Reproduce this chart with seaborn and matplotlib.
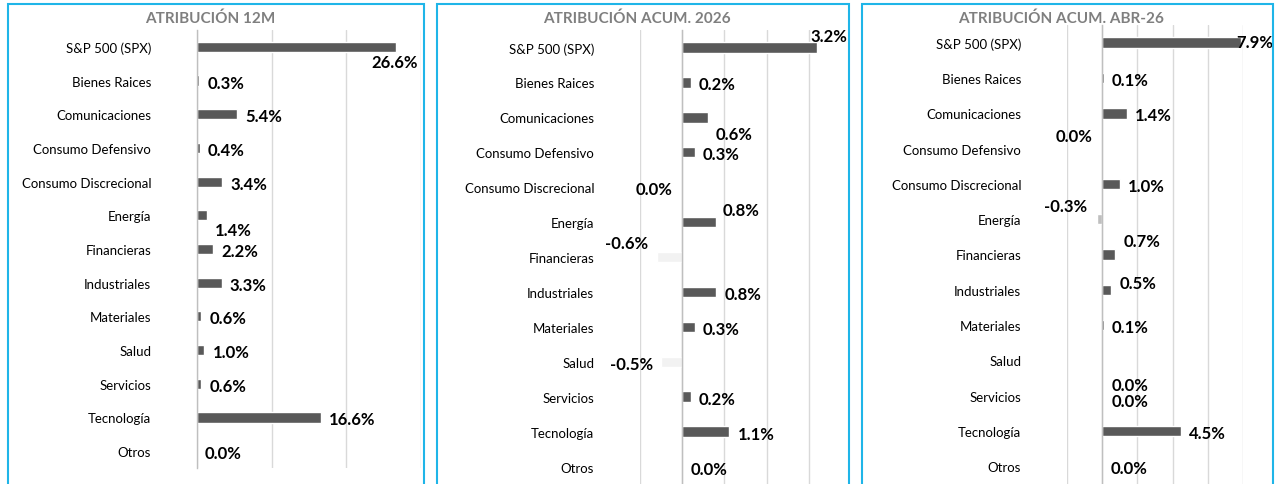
import numpy as np
import matplotlib.pyplot as plt
import seaborn as sns
from matplotlib.patches import Rectangle

# Data
categorias = ["S&P 500 (SPX)", "Bienes Raices", "Comunicaciones", "Consumo Defensivo",
              "Consumo Discrecional", "Energía", "Financieras", "Industriales",
              "Materiales", "Salud", "Servicios", "Tecnología", "Otros"]
titulos = ["ATRIBUCIÓN 12M", "ATRIBUCIÓN ACUM. 2026", "ATRIBUCIÓN ACUM. ABR-26"]
atrib_12m = [26.6, 0.3, 5.4, 0.4, 3.4, 1.4, 2.2, 3.3, 0.6, 1.0, 0.6, 16.6, 0.0]
atrib_2026 = [3.2, 0.2, 0.6, 0.3, 0.0, 0.8, -0.6, 0.8, 0.3, -0.5, 0.2, 1.1, 0.0]
atrib_abr26 = [7.9, 0.1, 1.4, 0.0, 1.0, -0.3, 0.7, 0.5, 0.1, 0.0, 0.0, 4.5, 0.0]

# Style per panel
DARK = "#595959"
colores = [
    [DARK] * 13,
    [DARK] * 6 + ["#F2F2F2"] + [DARK] * 2 + ["#F2F2F2"] + [DARK] * 3,
    [DARK] * 5 + ["#BFBFBF"] + [DARK] * 7,
]
# label offsets in pixels (dx, dy, ha) relative to bar end
D = (8, 0, "left")
offsets = [
    [(22, -13, "right"), D, D, D, D, (7, -13, "left"), D, D, D, D, D, D, D],
    [(-7, 13, "left"), D, (8, -15, "left"), D, (-10, 0, "right"), (7, 14, "left"),
     (-9, 16, "right"), (9, 0, "left"), D, (-8, 0, "right"), D, (9, 0, "left"), D],
    [(-5, 3, "left"), D, D, (-10, 15, "right"), D, (-10, 15, "right"), (9, 15, "left"),
     (9, 9, "left"), D, (9, -23, "left"), (9, -3, "left"), D, D],
]
limites = [(0, 29.5), (-1, 3.9), (-2, 8)]
grid_ticks = [[0, 10, 20, 30], [-1, 0, 1, 2, 3], [-2, 0, 2, 4, 6, 8]]
# axes boxes in pixels: left, top, right, bottom
cajas = [(197, 31, 421, 469), (640, 31, 847, 485), (1067, 26, 1243, 485)]
bordes = [(8, 5, 424), (437, 5, 849), (862, 5, 1273)]

W, H = 1278, 485
sns.set_style("white")
plt.rcParams["font.family"] = ["Lato", "DejaVu Sans"]
fig = plt.figure(figsize=(W / 100, H / 100), dpi=100)

series = [atrib_12m, atrib_2026, atrib_abr26]
for k in range(3):
    l, t, r, b = cajas[k]
    ax = fig.add_axes([l / W, 1 - b / H, (r - l) / W, (b - t) / H])
    vals = series[k]
    sns.barplot(x=vals, y=categorias, hue=categorias, palette=colores[k],
                orient="h", width=0.3, legend=False, ax=ax, saturation=1)
    ax.set_xlim(*limites[k])
    ax.set_ylim(len(categorias) - 0.5, -0.5)
    ax.set_xticks(grid_ticks[k])
    ax.tick_params(axis="x", length=0, labelbottom=False)
    ax.grid(axis="x", color="#D9D9D9", lw=1)
    ax.set_axisbelow(True)
    ax.set_xlabel("")
    ax.set_ylabel("")
    for s in ["top", "right", "bottom"]:
        ax.spines[s].set_visible(False)
    ax.spines["left"].set_position(("data", 0))
    ax.spines["left"].set_color("#BFBFBF")
    ax.spines["left"].set_linewidth(1)
    ax.set_yticks(np.arange(-0.5, len(categorias), 1), minor=True)
    x0, x1 = limites[k]
    zero_px = (0 - x0) / (x1 - x0) * (r - l)
    pad = (zero_px + 43) * 0.72
    ax.tick_params(axis="y", which="major", length=2, color="#BFBFBF", pad=pad,
                   labelsize=9.5, labelcolor="black")
    ax.tick_params(axis="y", which="minor", length=4, color="#BFBFBF")
    for i, v in enumerate(vals):
        dx, dy, ha = offsets[k][i]
        ax.annotate(f"{v:.1f}%", (v, i), xytext=(dx, dy - 2), textcoords="offset pixels",
                    ha=ha, va="center", fontsize=12, fontweight="bold", color="black")
    bl, bt, br = bordes[k]
    fig.add_artist(Rectangle((bl / W, -0.05), (br - bl) / W, 1.05 - bt / H,
                             transform=fig.transFigure, fill=False,
                             edgecolor="#1FB5E8", lw=1.5))
    fig.text((bl + br) / 2 / W - 6 / W, 1 - 19 / H, titulos[k], ha="center",
             va="center", fontsize=11, fontweight="bold", color="#7F7F7F")

fig.savefig("out.png", dpi=100)
